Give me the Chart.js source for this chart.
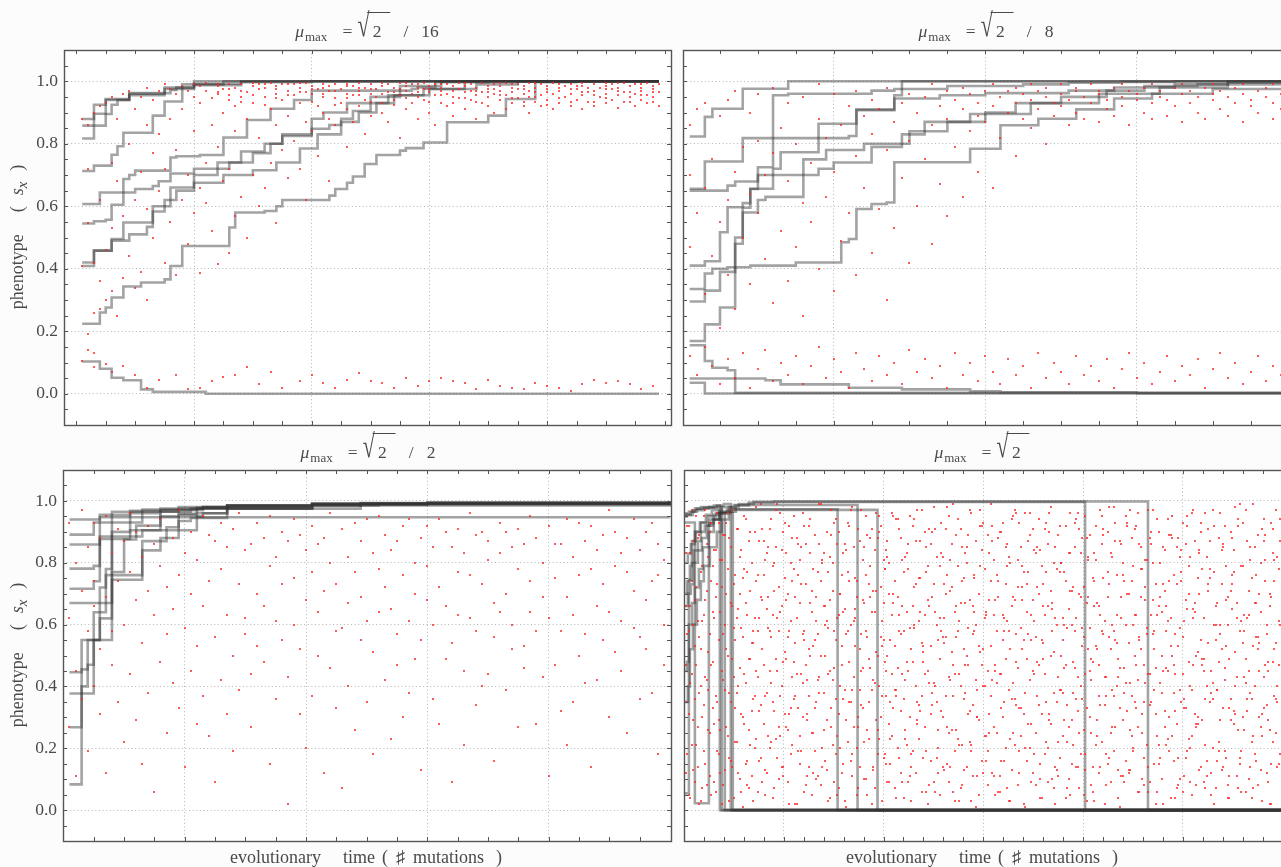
<!DOCTYPE html>
<html>
<head>
<meta charset="utf-8">
<script src="https://cdn.jsdelivr.net/npm/chart.js@4.4.1/dist/chart.umd.min.js"></script>
<style>
  html, body { margin: 0; padding: 0; width: 1281px; height: 867px; overflow: hidden; background: #fcfcfc; }
  canvas { position: absolute; }
  .txt { position: absolute; font-family: "Liberation Serif", "DejaVu Serif", serif; color: #4a4a4a; white-space: nowrap; }
  .ttl { transform: translateX(-50%); font-size: 17.5px; line-height: 1; }
  .ttl .mu { font-style: italic; }
  .ttl .sub { font-size: 13px; position: relative; top: 4px; margin-left: 1px; }
  .ttl .eq { margin-left: 15px; }
  .ttl .rad { display: inline-block; margin-left: 6px; font-size: 19px; transform: scale(1.15, 1.75); transform-origin: 50% 88%; }
  .ttl .ov { display: inline-block; border-top: 1px solid #4a4a4a; padding: 10px 9px 0 6px; margin-left: -2px; }
  .ttl .sl { margin-left: 13px; }
  .ttl .num { margin-left: 13px; }
  .ylab { font-size: 18px; line-height: 1; transform: translate(-50%, -50%) rotate(-90deg); }
  .ylab .g0 { margin-left: 22px; } .ylab .g1 { margin-left: 11px; }
  .xlab { font-size: 18px; line-height: 1; transform: translateX(-50%); }
  .gap1 { margin-left: 22px; } .gap2 { margin-left: 7px; } .gap3 { margin-left: 8px; } .gap4 { margin-left: 12px; }
</style>
</head>
<body>
<canvas id="pA" width="680" height="395" style="left:0;top:40px"></canvas>
<canvas id="pB" width="630" height="395" style="left:672px;top:40px"></canvas>
<canvas id="pC" width="680" height="392" style="left:0;top:460px"></canvas>
<canvas id="pD" width="630" height="392" style="left:672px;top:460px"></canvas>

<div class="txt ttl" style="left:367px;top:12px"><span class="mu">μ</span><span class="sub">max</span><span class="eq">=</span><span class="rad">√</span><span class="ov">2</span><span class="sl">/</span><span class="num">16</span></div>
<div class="txt ttl" style="left:986px;top:12px"><span class="mu">μ</span><span class="sub">max</span><span class="eq">=</span><span class="rad">√</span><span class="ov">2</span><span class="sl">/</span><span class="num">8</span></div>
<div class="txt ttl" style="left:368px;top:433px"><span class="mu">μ</span><span class="sub">max</span><span class="eq">=</span><span class="rad">√</span><span class="ov">2</span><span class="sl">/</span><span class="num">2</span></div>
<div class="txt ttl" style="left:982px;top:433px"><span class="mu">μ</span><span class="sub">max</span><span class="eq">=</span><span class="rad">√</span><span class="ov">2</span></div>

<div class="txt ylab" style="left:19px;top:237px">phenotype<span class="g0">(</span><span class="g1"><i>s</i><sub><i>x</i></sub></span><span class="g1">)</span></div>
<div class="txt ylab" style="left:19px;top:655px">phenotype<span class="g0">(</span><span class="g1"><i>s</i><sub><i>x</i></sub></span><span class="g1">)</span></div>

<div class="txt xlab" style="left:366px;top:848px">evolutionary<span class="gap1">time</span><span class="gap2">(</span><span class="gap3">♯</span><span class="gap3">mutations</span><span class="gap4">)</span></div>
<div class="txt xlab" style="left:982px;top:848px">evolutionary<span class="gap1">time</span><span class="gap2">(</span><span class="gap3">♯</span><span class="gap3">mutations</span><span class="gap4">)</span></div>

<script>
// ---- phenotype trajectories (mutation index, phenotype) for each mutation-rate setting ----
const runsA = [
  [[1,.879],[3,.896],[5,.943],[9,.96],[15,.975],[18,.99],[20,1],[99,1]],
  [[1,.858],[5,.895],[6,.925],[7,.94],[9,.955],[15,.98],[20,.992],[28,1],[99,1]],
  [[1,.817],[3,.925],[5,.94],[9,.962],[16,.972],[17,.98],[20,.987],[28,.997],[40,1],[99,1]],
  [[1,.713],[3,.73],[6,.765],[7,.792],[8,.835],[13,.89],[15,.935],[18,.975],[20,.99],[25,1],[99,1]],
  [[1,.607],[4,.644],[8,.687],[9,.70],[10,.714],[16,.756],[17,.76],[21,.764],[25,.82],[29,.876],[33,.912],[37,.94],[40,.97],[57,.975],[58,.98],[61,.997],[70,1],[99,1]],
  [[1,.545],[3,.552],[5,.557],[6,.605],[8,.644],[10,.655],[13,.665],[14,.68],[16,.705],[20,.72],[26,.74],[30,.77],[33,.80],[35,.825],[40,.848],[43,.86],[45,.88],[47,.905],[50,.93],[53,.955],[60,.975],[66,1],[99,1]],
  [[1,.42],[3,.458],[6,.495],[8,.548],[13,.60],[16,.66],[20,.70],[24,.74],[28,.775],[32,.80],[35,.83],[40,.88],[42,.90],[46,.93],[50,.95],[55,.985],[62,1],[99,1]],
  [[1,.409],[3,.458],[6,.49],[9,.51],[12,.534],[13,.583],[15,.62],[17,.65],[20,.675],[25,.70],[30,.715],[34,.74],[38,.785],[41,.83],[45,.87],[48,.90],[51,.93],[54,.955],[59,.975],[68,.99],[75,1],[99,1]],
  [[1,.224],[4,.26],[5,.276],[6,.308],[8,.343],[11,.356],[15,.366],[16,.409],[18,.473],[26,.532],[27,.58],[32,.585],[34,.60],[35,.62],[43,.634],[44,.655],[46,.675],[47,.695],[49,.735],[51,.764],[55,.778],[56,.786],[59,.804],[63,.869],[70,.89],[73,.943],[78,.997],[85,1],[99,1]],
  [[1,.103],[4,.08],[6,.051],[8,.043],[11,.014],[13,.006],[22,0],[99,0]]
];
const runsB = [
  [[1,.823],[3,.886],[4,.912],[8,.976],[14,1],[81,1]],
  [[1,.656],[3,.743],[8,.818],[22,.825],[23,.907],[28,.955],[29,1],[81,1]],
  [[1,.65],[6,.666],[7,.679],[10,.725],[12,.955],[14,.96],[25,.97],[28,.975],[35,.985],[45,.99],[51,.995],[58,.998],[65,1],[81,1]],
  [[1,.41],[3,.424],[5,.517],[6,.597],[8,.61],[9,.656],[12,.72],[13,.773],[18,.864],[23,.91],[28,.945],[34,.955],[40,.962],[51,.97],[57,.98],[65,.99],[72,1],[81,1]],
  [[1,.335],[3,.385],[4,.40],[6,.405],[9,.41],[15,.42],[21,.485],[22,.495],[23,.591],[25,.607],[27,.612],[28,.741],[38,.784],[42,.859],[47,.88],[52,.91],[57,.945],[62,.96],[70,.975],[81,.975]],
  [[1,.295],[3,.33],[5,.39],[7,.50],[8,.58],[10,.62],[11,.63],[16,.70],[18,.72],[20,.74],[25,.79],[29,.83],[32,.87],[38,.895],[46,.93],[55,.96],[63,.98],[72,.995],[81,.995]],
  [[1,.169],[3,.222],[5,.276],[7,.48],[8,.595],[9,.655],[10,.70],[16,.75],[19,.78],[24,.80],[30,.84],[35,.87],[40,.90],[44,.93],[50,.95],[56,.97],[61,.985],[68,.99],[81,.99]],
  [[1,.155],[3,.105],[4,.083],[6,.075],[7,.003],[81,.003]],
  [[1,.049],[11,.043],[13,.030],[22,.019],[29,.014],[38,.008],[42,.005],[60,.002],[81,.002]],
  [[1,.035],[3,.001],[81,.001]]
];
const runsC = [
  [[1,.94],[6,.947],[100,.947]],
  [[1,.891],[5,.93],[8,.965],[13,.972],[22,.978],[27,.985],[41,.99],[49,.993],[100,.993]],
  [[1,.859],[6,.955],[11,.968],[16,.975],[23,.98],[41,.988],[60,.995],[100,.995]],
  [[1,.781],[5,.79],[6,.877],[11,.905],[16,.95],[19,.958],[22,.975],[27,.985],[49,.992],[100,.998]],
  [[1,.716],[5,.74],[6,.885],[13,.905],[17,.915],[19,.935],[21,.945],[27,.985],[41,.99],[100,1]],
  [[1,.67],[7,.78],[8,.90],[11,.96],[16,.965],[21,.975],[41,.985],[100,.99]],
  [[1,.446],[3,.455],[4,.47],[5,.64],[7,.67],[8,.77],[10,.875],[12,.92],[16,.97],[23,.98],[41,.992],[100,.997]],
  [[1,.377],[5,.55],[8,.745],[13,.87],[17,.905],[22,.95],[23,.96],[27,.975],[49,.99],[100,.995]],
  [[1,.268],[3,.55],[6,.72],[7,.76],[13,.84],[16,.88],[19,.955],[22,.96],[27,.975],[41,.985],[52,.99],[100,.992]],
  [[1,.083],[3,.40],[4,.55],[6,.62],[8,.93],[13,.965],[19,.98],[27,.985],[41,.99],[60,.995],[100,.995]]
];
const runsD = [
  [[1,.96],[5,.965],[11,.975],[17,.98],[30,.985],[36,0],[608,0]],
  [[1,.955],[7,.965],[13,.975],[25,.98],[38,0],[608,0]],
  [[1,.95],[3,.955],[9,.97],[20,.978],[33,.985],[40,.99],[47,0],[608,0]],
  [[1,.93],[11,.022],[25,.928],[30,.94],[36,.96],[49,0],[608,0]],
  [[1,.054],[5,.745],[8,.80],[10,.84],[14,.87],[17,.90],[21,.92],[26,.94],[30,.955],[35,.965],[48,.973],[154,0],[608,0]],
  [[1,.70],[3,.74],[6,.79],[8,.87],[12,.90],[16,.93],[22,.955],[28,.97],[38,.98],[50,.987],[174,0],[608,0]],
  [[1,.66],[4,.70],[7,.73],[10,.80],[14,.84],[18,.88],[23,.92],[29,.94],[35,.96],[43,.971],[194,0],[608,0]],
  [[1,.45],[3,.48],[5,.60],[8,.67],[11,.72],[15,.78],[19,.85],[25,.90],[30,.94],[37,.965],[45,.98],[55,.99],[70,.997],[402,0],[608,0]],
  [[1,.35],[4,.40],[6,.52],[9,.60],[13,.68],[17,.74],[20,.79],[26,.85],[33,.90],[38,.94],[45,.965],[52,.985],[65,.995],[90,.998],[465,0],[608,0]],
  [[1,.80],[4,.83],[7,.86],[11,.90],[17,.93],[24,.95],[32,.96],[41,0],[608,0]]
];

// ---- sampled offspring phenotypes: [mutation index, phenotype, phenotype, ...] ----
const offspringA = [
  [1,.105,.41,.88],[2,.19,.14,.545,.72,.86],[3,.085,.13,.26,.90,.42],[4,.27,.36,.62,.92],[5,.095,.30,.46,.93],
  [6,.07,.33,.53,.74,.95],[7,.25,.68,.88],[8,.09,.37,.57,.96],[9,.44,.80,.97],[10,.06,.34,.62,.91],
  [11,.39,.71,.95],[12,.02,.30,.59,.86,.98],[13,.50,.77,.94],[14,.045,.65,.83,.97],[15,.42,.72,.99],
  [16,.55,.88,.975],[17,.06,.38,.78,.96],[18,.62,.91,.985],[19,.015,.48,.70,.97],[20,.58,.84,.95,.99],
  [21,.02,.385,.66,.93,.985],[22,.61,.74,.97,.995],[23,.04,.52,.86,.945],[24,.415,.79,.96,.99],[25,.055,.68,.90,.975],
  [26,.45,.72,.955,.99],[27,.06,.57,.84,.92,.98],[28,.63,.95,.99],[29,.085,.50,.88,.965],[30,.70,.93,.985],
  [31,.03,.60,.82,.975,.99],[32,.66,.95,.98],[33,.07,.74,.91,.995],[34,.545,.86,.96,.985],[35,.02,.78,.94,.99],
  [36,.69,.89,.97],[37,.81,.955,.99],[38,.04,.72,.93,.98],[39,.62,.87,.965,.995],[40,.06,.84,.96,.985],
  [41,.76,.92,.975],[42,.035,.90,.95,.99],[43,.68,.88,.97,.985],[44,.02,.86,.945,.99],[45,.93,.975],
  [46,.045,.79,.91,.96,.99],[47,.87,.955,.985],[48,.065,.92,.97,.995],[49,.83,.94,.98],[50,.04,.89,.96,.99],
  [51,.95,.975],[52,.035,.90,.93,.985],[53,.87,.965,.99],[54,.02,.94,.98],[55,.82,.955,.975,.995],
  [56,.05,.91,.97,.985],[57,.93,.96,.99],[58,.025,.88,.95,.98],[59,.94,.975,.995],[60,.04,.90,.965,.985],
  [61,.86,.955,.99],[62,.05,.93,.97,.98],[63,.92,.96,.99],[64,.04,.89,.95,.985],[65,.945,.975,.995],
  [66,.035,.91,.965,.985],[67,.94,.97,.99],[68,.015,.88,.955,.98],[69,.93,.965,.995],[70,.045,.92,.95,.985],
  [71,.90,.96,.975,.99],[72,.025,.94,.97,.985],[73,.91,.955,.995],[74,.02,.93,.965,.98],[75,.945,.975,.99],
  [76,.015,.92,.96,.985],[77,.90,.95,.97,.995],[78,.035,.935,.965,.98],[79,.92,.955,.99],[80,.025,.94,.975,.985],
  [81,.91,.96,.995],[82,.02,.93,.97,.98],[83,.95,.985],[84,.01,.92,.96,.99],[85,.94,.975,.985],
  [86,.03,.91,.955,.995],[87,.935,.965,.98],[88,.045,.92,.97,.99],[89,.95,.98],[90,.035,.93,.96,.985,.995],
  [91,.94,.975,.99],[92,.04,.915,.955,.98],[93,.935,.965,.995],[94,.03,.95,.985],[95,.92,.96,.99],
  [96,.015,.94,.97,.98],[97,.93,.955,.995],[98,.025,.95,.975,.985],[99,.92,.965,.99],
  [24,.965,.985],[26,.94,.975],[28,.97,.935],[30,.955,.995],[32,.925,.99],[34,.975,.945],[36,.99,.955],
  [38,.965,.995],[40,.935,.975],[42,.98,.96],[44,.97,.925],[46,.985,.945],[48,.955,.98],[50,.935,.975],
  [52,.96,.995],[54,.925,.965],[56,.945,.995],[58,.965,.99],[60,.935,.975],[62,.955,.99],[64,.97,.93],
  [66,.945,.995],[68,.935,.97],[70,.975,.965],[72,.955,.995],[74,.945,.99],[76,.975,.935],[78,.95,.995],
  [80,.965,.925],[82,.945,.99],[84,.975,.935],[86,.965,.985],[88,.955,.935],[90,.945,.975],[92,.97,.995],
  [94,.935,.965],[96,.955,.99],[98,.935,.965]
];
const offspringB = [
  [1,.12,.47,.70,.86],[2,.06,.58,.91],[3,.15,.32,.66,.93],[4,.09,.44,.75],[5,.03,.21,.55,.89],
  [6,.11,.38,.62,.94],[7,.05,.27,.71,.97],[8,.13,.50,.79],[9,.02,.35,.64,.90],[10,.08,.58,.81,.96],
  [11,.14,.43,.70],[12,.04,.29,.77,.98],[13,.10,.52,.85],[14,.06,.36,.68,.93],[15,.12,.47,.80],
  [16,.03,.25,.61,.95],[17,.09,.55,.74],[18,.15,.40,.88,.99],[19,.05,.63,.82],[20,.11,.33,.71,.96],
  [21,.07,.49,.86],[22,.02,.58,.92],[23,.13,.38,.76,.97],[24,.08,.66,.89],[25,.04,.45,.83,.94],
  [26,.12,.59,.91],[27,.06,.30,.78,.98],[28,.10,.53,.87],[29,.03,.69,.93],[30,.14,.42,.81,.96],
  [31,.07,.60,.90],[32,.11,.75,.95],[33,.05,.48,.86,.99],[34,.09,.67,.92],[35,.02,.57,.88,.97],
  [36,.13,.79,.94],[37,.06,.63,.91,.98],[38,.10,.84,.96],[39,.04,.71,.89,.93],[40,.12,.87,.97],
  [41,.07,.66,.92,.99],[42,.03,.82,.95],[43,.11,.90,.97],[44,.06,.76,.93,.98],[45,.09,.88,.96],
  [46,.02,.85,.94,.99],[47,.13,.91,.97],[48,.05,.80,.95,.98],[49,.10,.89,.93],[50,.07,.92,.96,.99],
  [51,.03,.86,.94],[52,.12,.90,.97,.98],[53,.06,.88,.95],[54,.09,.93,.99],[55,.04,.87,.96,.97],
  [56,.11,.91,.94],[57,.02,.89,.98],[58,.08,.92,.95,.99],[59,.13,.86,.97],[60,.05,.94,.96],
  [61,.10,.90,.98],[62,.03,.88,.93,.99],[63,.07,.95,.97],[64,.12,.89,.94],[65,.04,.92,.98],
  [66,.09,.87,.96,.99],[67,.06,.93,.97],[68,.11,.90,.95],[69,.02,.88,.98],[70,.08,.94,.96,.99],
  [71,.13,.91,.97],[72,.05,.89,.95],[73,.10,.93,.98],[74,.03,.87,.96,.99],[75,.07,.92,.94],
  [76,.12,.90,.97],[77,.04,.95,.98],[78,.09,.88,.93,.99],[79,.06,.91,.96],[80,.11,.94,.97]
];
const offspringC = [
  [1,.62,.27,.93],[2,.45,.80,.11],[3,.71,.36,.97],[4,.58,.19,.85],[5,.40,.74,.66,.93],
  [6,.52,.88,.31],[7,.69,.12,.95],[8,.83,.47,.58],[9,.35,.91,.74],[10,.60,.22,.87],
  [11,.77,.44,.96],[12,.29,.68,.90],[13,.54,.82,.15],[14,.92,.38,.71],[15,.63,.06,.86],
  [16,.48,.79,.94],[17,.72,.25,.57],[18,.88,.41,.65],[19,.33,.76,.97],[20,.59,.14,.83],
  [21,.45,.90,.70],[22,.81,.53,.28],[23,.66,.95,.37],[24,.24,.74,.89],[25,.56,.87,.09],
  [26,.78,.42,.93],[27,.63,.31,.85],[28,.91,.50,.19],[29,.39,.73,.96],[30,.57,.84,.62],
  [31,.86,.27,.44],[32,.70,.93,.53],[33,.48,.66,.88],[34,.15,.79,.95],[35,.61,.36,.82],
  [36,.90,.55,.73],[37,.43,.87,.02],[38,.75,.60,.94],[39,.52,.31,.89],[40,.84,.68,.20],
  [41,.37,.92,.77],[42,.64,.50,.86],[43,.88,.12,.71],[44,.46,.80,.96],[45,.73,.58,.33],
  [46,.59,.91,.07],[47,.82,.40,.67],[48,.26,.77,.93],[49,.69,.55,.87],[50,.94,.35,.61],
  [51,.51,.83,.18],[52,.78,.64,.95],[53,.42,.89,.72],[54,.65,.23,.84],[55,.87,.57,.47],
  [56,.30,.76,.92],[57,.61,.94,.38],[58,.80,.49,.70],[59,.55,.13,.88],[60,.92,.68,.79],
  [61,.36,.85,.60],[62,.72,.28,.94],[63,.49,.90,.66],[64,.85,.54,.09],[65,.63,.77,.91],
  [66,.21,.45,.83],[67,.76,.62,.96],[68,.58,.89,.34],[69,.90,.40,.73],[70,.44,.81,.87],
  [71,.67,.16,.56],[72,.83,.93,.64],[73,.39,.70,.90],[74,.60,.52,.85],[75,.91,.27,.78],
  [76,.53,.86,.46],[77,.74,.64,.95],[78,.28,.88,.58],[79,.80,.43,.69],[80,.62,.92,.11],
  [81,.47,.75,.86],[82,.86,.58,.32],[83,.69,.21,.94],[84,.35,.82,.63],[85,.93,.50,.76],
  [86,.57,.87,.41],[87,.78,.14,.92],[88,.42,.66,.84],[89,.89,.73,.55],[90,.64,.30,.97],
  [91,.51,.90,.79],[92,.83,.45,.61],[93,.25,.77,.88],[94,.71,.59,.94],[95,.56,.84,.36],
  [96,.90,.68,.52],[97,.38,.93,.74],[98,.76,.18,.86],[99,.60,.81,.47]
];
const offspringD = [
  [2,.12,.47,.83,.66],[5,.31,.92,.05,.58],[8,.74,.21,.44,.97],[11,.53,.09,.68,.36],[14,.88,.27,.61,.14],
  [17,.40,.77,.03,.52],[20,.19,.95,.63,.34],[23,.71,.42,.86,.08],[26,.25,.57,.11,.90],[29,.64,.33,.79,.48],
  [32,.06,.84,.37,.69],[35,.93,.18,.55,.29],[38,.45,.72,.02,.81],[41,.13,.60,.89,.39],[44,.78,.24,.50,.96],
  [47,.35,.67,.16,.85],[50,.59,.04,.73,.43],[53,.22,.91,.38,.62],[56,.82,.46,.10,.70],[59,.30,.75,.56,.01],
  [62,.67,.15,.94,.41],[65,.49,.87,.26,.07],[68,.11,.54,.80,.32],[71,.90,.37,.62,.20],[74,.43,.06,.76,.58],
  [77,.17,.69,.99,.34],[80,.76,.28,.47,.87],[83,.38,.83,.12,.65],[86,.58,.20,.91,.45],[89,.04,.63,.35,.79],
  [92,.85,.49,.23,.97],[95,.27,.72,.58,.10],[98,.66,.14,.84,.40],[101,.51,.93,.31,.75],[104,.09,.56,.70,.26],
  [107,.80,.33,.18,.61],[110,.36,.78,.95,.48],[113,.62,.02,.44,.88],[116,.24,.67,.81,.15],[119,.96,.41,.57,.30],
  [122,.47,.86,.08,.73],[125,.14,.52,.37,.92],[128,.71,.25,.64,.05],[131,.33,.89,.19,.55],[134,.57,.11,.77,.42],
  [137,.08,.74,.50,.99],[140,.83,.38,.26,.66],[143,.29,.61,.90,.13],[146,.68,.04,.45,.82],[149,.42,.80,.71,.21],
  [152,.18,.55,.94,.36],[155,.90,.31,.63,.07],[158,.53,.76,.12,.47],[161,.03,.65,.39,.86],[164,.77,.22,.58,.93],
  [167,.35,.97,.16,.60],[170,.61,.43,.85,.27],[173,.20,.69,.05,.74],[176,.87,.14,.52,.39],[179,.46,.81,.33,.68],
  [182,.10,.58,.76,.95],[185,.73,.35,.23,.49],[188,.39,.91,.64,.02],[191,.64,.07,.41,.84],[194,.26,.50,.88,.18],
  [197,.92,.72,.30,.56],[200,.55,.17,.67,.81],[203,.15,.84,.45,.37],[206,.80,.28,.09,.70],[209,.44,.63,.96,.24],
  [212,.07,.39,.74,.53],[215,.69,.94,.20,.46],[218,.32,.12,.57,.88],[221,.58,.77,.36,.04],[224,.21,.48,.83,.64],
  [227,.95,.30,.11,.59],[230,.48,.66,.92,.19],[233,.12,.87,.40,.73],[236,.75,.23,.61,.34],[239,.37,.54,.06,.97],
  [242,.63,.90,.27,.44],[245,.02,.45,.79,.68],[248,.86,.16,.53,.31],[251,.41,.73,.98,.09],[254,.17,.60,.35,.82],
  [257,.79,.05,.49,.62],[260,.30,.82,.14,.56],[263,.56,.37,.70,.91],[266,.09,.95,.43,.25],[269,.72,.26,.86,.51],
  [272,.44,.64,.19,.03],[275,.23,.79,.58,.94],[278,.91,.40,.07,.67],[281,.52,.13,.75,.36],[284,.14,.85,.50,.80],
  [287,.68,.32,.97,.22],[290,.34,.57,.66,.11],[293,.60,.01,.42,.87],[296,.05,.70,.29,.53],[299,.84,.47,.92,.16],
  [302,.40,.24,.62,.78],[305,.19,.89,.08,.45],[308,.74,.53,.37,.99],[311,.27,.11,.81,.63],[314,.58,.76,.25,.41],
  [317,.11,.44,.90,.06],[320,.93,.63,.55,.30],[323,.49,.20,.73,.85],[326,.03,.82,.39,.58],[329,.66,.36,.13,.94],
  [332,.36,.97,.68,.21],[335,.81,.08,.46,.72],[338,.24,.59,.85,.33],[341,.55,.31,.02,.77],[344,.16,.73,.64,.49],
  [347,.89,.42,.20,.96],[350,.45,.68,.91,.12],[353,.08,.25,.56,.83],[356,.70,.94,.34,.47],[359,.31,.55,.79,.04],
  [362,.63,.18,.44,.91],[365,.20,.86,.09,.66],[368,.98,.50,.71,.28],[371,.51,.07,.38,.80],[374,.13,.78,.60,.35],
  [377,.77,.39,.92,.17],[380,.38,.62,.24,.55],[383,.04,.92,.47,.74],[386,.65,.27,.83,.10],[389,.29,.71,.15,.60],
  [392,.85,.46,.58,.93],[395,.43,.14,.96,.32],[398,.18,.83,.40,.69],[401,.72,.56,.05,.26],[404,.33,.03,.67,.88],
  [407,.59,.89,.30,.45],[410,.06,.48,.75,.14],[413,.92,.21,.53,.81],[416,.47,.66,.12,.37],[419,.22,.95,.86,.58],
  [422,.61,.34,.43,.02],[425,.15,.77,.69,.90],[428,.83,.09,.25,.52],[431,.37,.58,.98,.19],[434,.54,.40,.63,.76],
  [437,.01,.87,.33,.46],[440,.76,.29,.80,.11],[443,.41,.60,.16,.95],[446,.12,.13,.54,.70],[449,.88,.74,.37,.24],
  [452,.50,.35,.91,.63],[455,.27,.96,.06,.42],[458,.69,.52,.78,.85],[461,.35,.17,.47,.08],[464,.57,.81,.21,.59],
  [467,.09,.44,.88,.34],[470,.80,.68,.57,.97],[473,.46,.02,.31,.73],[476,.21,.90,.66,.15],[479,.64,.38,.10,.50],
  [482,.32,.71,.84,.27],[485,.94,.23,.45,.61],[488,.53,.62,.04,.89],[491,.16,.47,.76,.38],[494,.73,.85,.28,.07],
  [497,.39,.10,.59,.82],[500,.06,.56,.93,.44],[503,.86,.33,.17,.68],[506,.48,.79,.70,.23],[509,.24,.05,.39,.96],
  [512,.67,.64,.87,.31],[515,.30,.28,.51,.75],[518,.90,.93,.14,.55],[521,.45,.49,.62,.09],[524,.11,.16,.82,.40],
  [527,.78,.75,.35,.87],[530,.36,.41,.97,.20],[533,.60,.07,.55,.66],[536,.19,.88,.22,.48],[539,.84,.52,.73,.13],
  [542,.42,.19,.46,.92],[545,.04,.69,.08,.60],[548,.71,.36,.90,.29],[551,.28,.84,.32,.77],[554,.62,.11,.67,.43],
  [557,.17,.58,.15,.99],[560,.93,.30,.79,.54],[563,.49,.97,.41,.06],[566,.10,.45,.63,.71],[569,.75,.22,.04,.36],
  [572,.40,.67,.85,.18],[575,.56,.08,.52,.89],[578,.13,.80,.27,.64],[581,.87,.43,.94,.33],[584,.34,.60,.12,.57],
  [587,.66,.26,.70,.02],[590,.22,.91,.48,.83],[593,.97,.54,.36,.25],[596,.47,.15,.78,.61],[599,.08,.76,.21,.93],
  [602,.70,.37,.58,.45],[605,.31,.88,.05,.72],
  [3,.57,.18,.92,.35],[6,.04,.66,.41,.83],[9,.29,.87,.13,.60],[12,.95,.47,.72,.21],[15,.38,.02,.56,.89],
  [18,.61,.79,.30,.07],[21,.15,.43,.97,.68],[24,.82,.26,.51,.39],[27,.47,.93,.05,.74],[30,.09,.62,.84,.28],
  [33,.73,.35,.19,.96],[36,.26,.81,.64,.12],[39,.89,.08,.42,.57],[42,.52,.70,.27,.93],[45,.17,.38,.88,.03],
  [48,.66,.97,.14,.49],[51,.33,.55,.76,.22],[54,.91,.12,.40,.65],[57,.06,.84,.59,.31],[60,.44,.28,.95,.78],
  [63,.77,.63,.08,.16],[66,.21,.49,.71,.90],[69,.58,.03,.36,.54],[72,.98,.74,.23,.45],[75,.32,.16,.87,.62],
  [78,.68,.91,.52,.09],[81,.13,.37,.05,.81],[84,.85,.59,.69,.24],[87,.41,.22,.94,.56],[90,.07,.80,.32,.71],
  [93,.62,.45,.17,.99],[96,.24,.96,.64,.37],[99,.90,.11,.48,.14],[102,.49,.68,.83,.27],[105,.02,.31,.58,.92],
  [108,.74,.88,.21,.43],[111,.37,.54,.02,.69],[114,.86,.19,.76,.33],[117,.19,.73,.44,.85],[120,.55,.06,.92,.58],
  [123,.31,.42,.29,.11],[126,.94,.83,.67,.50],[129,.12,.25,.53,.78],[132,.69,.61,.10,.35],[135,.43,.99,.38,.86],
  [138,.80,.14,.81,.20],[141,.16,.50,.60,.66],[144,.59,.77,.03,.44],[147,.27,.33,.89,.97],[150,.93,.58,.46,.09],
  [153,.05,.86,.24,.62],[156,.70,.20,.70,.40],[159,.36,.64,.15,.83],[162,.84,.01,.57,.29],[165,.48,.92,.35,.74],
  [168,.11,.39,.98,.18],[171,.65,.75,.62,.53],[174,.30,.27,.07,.91],[177,.97,.57,.45,.34],[180,.22,.10,.85,.67],
  [183,.56,.89,.26,.05],[186,.88,.46,.69,.79],[189,.14,.71,.13,.42],[192,.71,.29,.51,.96],[195,.40,.95,.90,.23],
  [198,.03,.53,.37,.61],[201,.78,.18,.78,.48],[204,.50,.82,.09,.87],[207,.23,.35,.55,.15],[210,.95,.67,.33,.70],
  [213,.37,.04,.94,.39],[216,.63,.91,.17,.58],[219,.09,.44,.66,.81],[222,.82,.23,.42,.26],[225,.45,.78,.86,.09],
  [228,.18,.14,.03,.52],[231,.72,.59,.60,.94],[234,.29,.97,.28,.35],[237,.87,.32,.75,.64],[240,.53,.51,.48,.17],
  [243,.06,.85,.19,.77],[246,.66,.08,.91,.41],[249,.34,.69,.38,.90],[252,.91,.40,.64,.06],[255,.20,.26,.12,.55],
  [258,.58,.93,.83,.32],[261,.13,.62,.54,.73],[264,.76,.15,.27,.98],[267,.42,.81,.71,.14],[270,.99,.37,.06,.47],
  [273,.26,.56,.89,.66],[276,.61,.03,.44,.21],[279,.08,.74,.21,.85],[282,.83,.47,.67,.38],[285,.47,.89,.31,.59],
  [288,.19,.21,.96,.03],[291,.75,.64,.58,.76],[294,.39,.30,.11,.30],[297,.92,.97,.79,.51],[300,.12,.52,.40,.93],
  [303,.64,.16,.63,.24],[306,.31,.83,.25,.68],[309,.87,.42,.92,.12],[312,.05,.68,.47,.45],[315,.69,.06,.74,.88],
  [318,.44,.90,.16,.33],[321,.16,.35,.58,.62],[324,.79,.61,.86,.07],[327,.52,.23,.03,.80],[330,.25,.95,.69,.41],
  [333,.96,.48,.34,.57],[336,.33,.12,.93,.19],[339,.68,.79,.52,.72],[342,.01,.38,.20,.96],[345,.57,.87,.77,.28],
  [348,.28,.55,.09,.63],[351,.84,.18,.61,.44],[354,.48,.72,.37,.85],[357,.15,.04,.84,.10],[360,.73,.66,.49,.54],
  [363,.35,.93,.22,.77],[366,.90,.29,.96,.31],[369,.10,.58,.65,.67],[372,.62,.85,.14,.02],[375,.22,.11,.43,.89],
  [378,.80,.50,.80,.39],[381,.46,.77,.29,.60],[384,.07,.34,.59,.22],[387,.71,.96,.05,.83],[390,.38,.21,.72,.48],
  [393,.94,.62,.36,.14],[396,.25,.07,.91,.70],[399,.59,.88,.53,.36],[402,.13,.44,.18,.95],[405,.81,.69,.82,.52],
  [408,.49,.25,.42,.08],[411,.03,.83,.66,.74],[414,.67,.52,.24,.29],[417,.34,.14,.97,.63],[420,.89,.75,.57,.91],
  [423,.18,.37,.08,.43],[426,.56,.98,.73,.17],[429,.27,.60,.39,.82],[432,.93,.27,.87,.55],[435,.43,.49,.13,.04],
  [438,.11,.86,.62,.69],[441,.74,.09,.46,.38],[444,.32,.70,.92,.93],[447,.97,.41,.26,.13],[450,.20,.19,.79,.60],
  [453,.63,.92,.33,.47],[456,.06,.55,.56,.86],[459,.78,.31,.10,.25],[462,.41,.81,.68,.72],[465,.14,.06,.44,.97],
  [468,.86,.63,.90,.35],[471,.52,.39,.15,.58],[474,.24,.94,.63,.06],[477,.69,.17,.41,.80],[480,.02,.73,.85,.45],
  [483,.58,.46,.21,.66],[486,.30,.89,.74,.19],[489,.95,.24,.50,.88],[492,.44,.57,.04,.32],[495,.17,.08,.88,.53],
  [498,.77,.84,.35,.74],[501,.36,.33,.61,.11],[504,.92,.65,.19,.95],[507,.09,.20,.82,.40],[510,.65,.97,.47,.62],
  [513,.28,.50,.08,.27],[516,.83,.13,.70,.84],[519,.47,.78,.29,.49],[522,.21,.36,.96,.07],[525,.73,.91,.54,.71],
  [528,.05,.45,.12,.38],[531,.60,.02,.77,.92],[534,.39,.67,.39,.16],[537,.96,.29,.60,.57],[540,.14,.86,.85,.33],
  [543,.68,.53,.17,.79],[546,.33,.11,.49,.04],[549,.88,.76,.73,.65],[552,.51,.40,.31,.98],[555,.07,.94,.92,.26],
  [558,.79,.19,.06,.61],[561,.26,.63,.58,.43],[564,.62,.32,.36,.87],[567,.38,.85,.81,.14],[570,.99,.07,.24,.53],
  [573,.16,.56,.67,.76],[576,.54,.70,.45,.30],[579,.31,.24,.03,.91],[582,.81,.89,.74,.47],[585,.45,.48,.29,.09],
  [588,.02,.15,.93,.69],[591,.74,.81,.52,.37],[594,.40,.35,.14,.82],[597,.94,.60,.87,.18],[600,.19,.03,.41,.59],
  [603,.57,.72,.64,.96],[606,.28,.46,.20,.34]
];

// ---- axis ticks ----
const yTicks = [-0.05,0,0.05,0.1,0.15,0.2,0.25,0.3,0.35,0.4,0.45,0.5,0.55,0.6,0.65,0.7,0.75,0.8,0.85,0.9,0.95,1,1.05];
const yGrid = [0,0.2,0.4,0.6,0.8,1];
const yTickLabels = ['0.0','0.2','0.4','0.6','0.8','1.0'];
const xTicksA = [0,5,10,15,20,25,30,35,40,45,50,55,60,65,70,75,80,85,90,95,100];
const xGridA = [20,40,60,80];
const xTicksB = [5,10,15,20,25,30,35,40,45,50,55,60,65,70,75,80];
const xGridB = [20,40,60];
const xTicksC = [5,10,15,20,25,30,35,40,45,50,55,60,65,70,75,80,85,90,95];
const xGridC = [20,40,60,80];
const xTicksD = [20,40,60,80,100,120,140,160,180,200,220,240,260,280,300,320,340,360,380,400,420,440,460,480,500,520,540,560,580,600];
const xGridD = [100,200,300,400,500];

// ---- styling ----
const FONT = '"Liberation Serif", "DejaVu Serif", serif';
const INK = '#4a4a4a';
const GRID = '#b4b4b4';
const RUN_COLOR = 'rgba(50,50,50,0.45)';

// small red mark used for each sampled offspring
const dot = document.createElement('canvas');
dot.width = 2; dot.height = 2;
(() => { const c = dot.getContext('2d'); c.fillStyle = 'rgba(255,35,35,0.75)'; c.fillRect(0, 0, 2, 2); })();

const near = (a, b) => Math.abs(a - b) < 1e-6;

// white plotting area behind everything
const plotBg = {
  id: 'plotBg',
  beforeDraw(chart) {
    const { ctx, chartArea: a } = chart;
    ctx.save();
    ctx.fillStyle = '#ffffff';
    ctx.fillRect(a.left, a.top, a.right - a.left, a.bottom - a.top);
    ctx.restore();
  }
};

// box frame with inward tick marks on all four sides
const frameTicks = {
  id: 'frameTicks',
  afterDraw(chart) {
    const { ctx, chartArea: a, scales: { x, y } } = chart;
    ctx.save();
    ctx.strokeStyle = '#555555';
    ctx.lineWidth = 1;
    ctx.beginPath();
    const L = 4;
    x.ticks.forEach(t => {
      const px = Math.round(x.getPixelForValue(t.value)) + 0.5;
      ctx.moveTo(px, a.top); ctx.lineTo(px, a.top + L);
      ctx.moveTo(px, a.bottom); ctx.lineTo(px, a.bottom - L);
    });
    y.ticks.forEach(t => {
      const py = Math.round(y.getPixelForValue(t.value)) + 0.5;
      ctx.moveTo(a.left, py); ctx.lineTo(a.left + L, py);
      ctx.moveTo(a.right, py); ctx.lineTo(a.right - L, py);
    });
    ctx.stroke();
    ctx.lineWidth = 1.4;
    ctx.strokeRect(Math.round(a.left) + 0.5, Math.round(a.top) + 0.5, Math.round(a.right - a.left), Math.round(a.bottom - a.top));
    ctx.restore();
  }
};

function makePanel(id, runs, offspring, xMin, xMax, xTicks, xGrid, yAxisWidth, showYLabels, pad) {
  const datasets = [{
    data: offspring.flatMap(([x, ...ys]) => ys.map(y => ({ x, y }))),
    pointStyle: dot, pointRadius: 1, pointHoverRadius: 1, showLine: false, order: 0
  }];
  runs.forEach(run => datasets.push({
    data: run.map(([x, y]) => ({ x, y })),
    showLine: true, stepped: true, fill: false,
    borderColor: RUN_COLOR, borderWidth: 2.6,
    pointRadius: 0, pointHoverRadius: 0, order: 1
  }));
  return new Chart(document.getElementById(id), {
    type: 'scatter',
    data: { datasets },
    options: {
      responsive: false, animation: false, devicePixelRatio: 1, events: [],
      layout: { padding: pad },
      plugins: { legend: { display: false }, tooltip: { enabled: false }, title: { display: false } },
      scales: {
        x: {
          type: 'linear', bounds: 'data', min: xMin, max: xMax,
          afterBuildTicks: s => { s.ticks = xTicks.map(v => ({ value: v })); },
          afterFit: s => { s.height = 0; s.paddingLeft = 0; s.paddingRight = 0; },
          ticks: { display: false, autoSkip: false },
          grid: { drawTicks: false, lineWidth: 1, color: c => (c.tick && xGrid.some(g => near(g, c.tick.value))) ? GRID : 'rgba(0,0,0,0)' },
          border: { display: false, dash: [1, 2.6] }
        },
        y: {
          type: 'linear', bounds: 'data', min: -0.1, max: 1.1,
          afterBuildTicks: s => { s.ticks = yTicks.map(v => ({ value: v })); },
          afterFit: s => { s.width = yAxisWidth; s.paddingTop = 0; s.paddingBottom = 0; },
          ticks: {
            display: showYLabels, autoSkip: false, padding: 6, color: INK,
            font: { family: FONT, size: 17.5 },
            callback: v => { const i = yGrid.findIndex(g => near(g, v)); return i >= 0 ? yTickLabels[i] : ''; }
          },
          grid: { drawTicks: false, lineWidth: 1, color: c => (c.tick && yGrid.some(g => near(g, c.tick.value))) ? GRID : 'rgba(0,0,0,0)' },
          border: { display: false, dash: [1, 2.6] }
        }
      }
    },
    plugins: [plotBg, frameTicks]
  });
}

makePanel('pA', runsA, offspringA, -2.09, 101.05, xTicksA, xGridA, 64, true, { top: 10, right: 9, bottom: 10, left: 0 });
makePanel('pB', runsB, offspringB, 0.12, 80.2, xTicksB, xGridB, 11, false, { top: 10, right: 12, bottom: 10, left: 0 });
makePanel('pC', runsC, offspringC, -0.07, 100.18, xTicksC, xGridC, 63, true, { top: 10, right: 9, bottom: 11, left: 0 });
makePanel('pD', runsD, offspringD, 0.1, 607.3, xTicksD, xGridD, 12, false, { top: 10, right: 12, bottom: 11, left: 0 });
</script>
</body>
</html>
